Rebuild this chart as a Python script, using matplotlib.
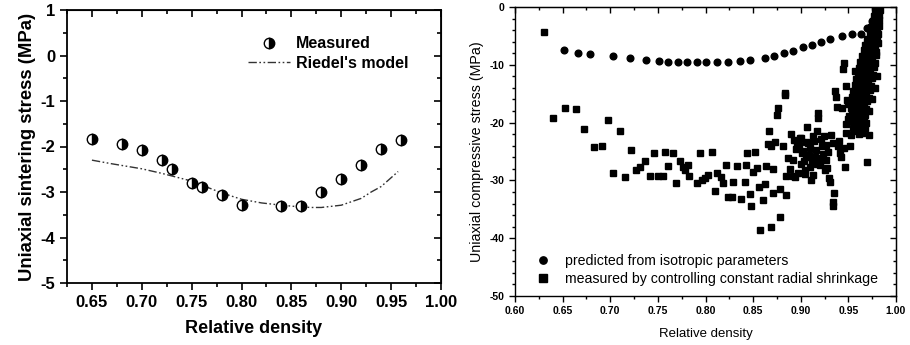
import matplotlib
matplotlib.use("Agg")
import matplotlib.pyplot as plt
from matplotlib.ticker import MultipleLocator

plt.rcParams['font.family'] = ['Liberation Sans', 'DejaVu Sans']

# ---------------- Left panel data ----------------
meas_x = [0.65, 0.68, 0.70, 0.72, 0.73, 0.75, 0.76, 0.78, 0.80, 0.84, 0.86, 0.88, 0.90, 0.92, 0.94, 0.96]
meas_y = [-1.84, -1.95, -2.08, -2.30, -2.50, -2.81, -2.90, -3.07, -3.28, -3.30, -3.30, -3.00, -2.72, -2.41, -2.06, -1.86]

model_x = [0.65, 0.67, 0.70, 0.72, 0.75, 0.78, 0.80, 0.82, 0.84, 0.86, 0.87, 0.88, 0.90, 0.92, 0.93, 0.94, 0.957]
model_y = [-2.30, -2.38, -2.49, -2.59, -2.76, -3.02, -3.16, -3.24, -3.29, -3.33, -3.34, -3.34, -3.29, -3.14, -3.00, -2.88, -2.55]

left_xticks = [0.65, 0.70, 0.75, 0.80, 0.85, 0.90, 0.95, 1.00]
left_yticks = [1, 0, -1, -2, -3, -4, -5]

# ---------------- Right panel data ----------------
pred_x = [0.651, 0.666, 0.679, 0.703, 0.721, 0.738, 0.751, 0.761, 0.771, 0.781, 0.791, 0.801,
          0.812, 0.824, 0.836, 0.847, 0.862, 0.872, 0.882, 0.892, 0.902, 0.912, 0.921, 0.931,
          0.943, 0.954, 0.963, 0.970, 0.975, 0.979, 0.982]
pred_y = [-7.4, -7.9, -8.1, -8.4, -8.8, -9.2, -9.3, -9.45, -9.5, -9.5, -9.5, -9.5,
          -9.5, -9.5, -9.3, -9.1, -8.8, -8.4, -7.9, -7.6, -7.0, -6.5, -6.05, -5.6,
          -5.0, -4.7, -4.6, -3.6, -2.4, -1.2, -0.2]

meas2_x = [0.630, 0.640, 0.652, 0.664, 0.672, 0.683, 0.691, 0.698, 0.703, 0.710, 0.716, 0.722,
           0.727, 0.731, 0.736, 0.742, 0.746, 0.750, 0.755, 0.758, 0.761, 0.766, 0.769, 0.773,
           0.776, 0.779, 0.782, 0.783, 0.791, 0.794, 0.796, 0.799, 0.803, 0.807, 0.810, 0.812,
           0.816, 0.818, 0.822, 0.824, 0.828, 0.829, 0.833, 0.837, 0.841, 0.842, 0.844, 0.847,
           0.848, 0.850, 0.852, 0.854, 0.856, 0.857, 0.860, 0.862, 0.863, 0.866, 0.867, 0.869,
           0.869, 0.871, 0.871, 0.873, 0.875, 0.876, 0.878, 0.878, 0.881, 0.883, 0.883, 0.885,
           0.885, 0.890, 0.892, 0.892, 0.896, 0.897, 0.899, 0.901, 0.903, 0.904, 0.907, 0.908,
           0.909, 0.911, 0.913, 0.915, 0.917, 0.917, 0.918, 0.918, 0.920, 0.922, 0.924, 0.925,
           0.927, 0.930, 0.931, 0.934, 0.934, 0.935, 0.932, 0.934, 0.936, 0.937, 0.938, 0.939,
           0.941, 0.943, 0.944, 0.945, 0.946, 0.948, 0.948, 0.949, 0.951, 0.952, 0.953, 0.955,
           0.957, 0.972, 0.970,
           0.893, 0.895, 0.898, 0.900, 0.902, 0.905, 0.906, 0.910, 0.912, 0.914, 0.916, 0.919,
           0.921, 0.923, 0.926, 0.928, 0.887, 0.889, 0.894, 0.900, 0.904, 0.910, 0.913, 0.921,
           0.929, 0.940, 0.942, 0.945, 0.947, 0.950,
           # dense cluster near full density
           0.978, 0.981, 0.983, 0.977, 0.980, 0.982, 0.976, 0.979, 0.982, 0.974, 0.977, 0.980,
           0.982, 0.973, 0.976, 0.979, 0.981, 0.970, 0.974, 0.977, 0.980, 0.967, 0.971, 0.975,
           0.978, 0.981, 0.966, 0.970, 0.973, 0.976, 0.979, 0.964, 0.968, 0.972, 0.975, 0.979,
           0.962, 0.966, 0.970, 0.974, 0.978, 0.961, 0.965, 0.969, 0.973, 0.977, 0.960, 0.964,
           0.968, 0.972, 0.976, 0.958, 0.962, 0.967, 0.971, 0.975, 0.957, 0.961, 0.965, 0.970,
           0.974, 0.955, 0.960, 0.964, 0.969, 0.973, 0.954, 0.958, 0.963, 0.967, 0.972, 0.953,
           0.957, 0.962, 0.966, 0.970, 0.953, 0.957, 0.961, 0.965, 0.969, 0.954, 0.958, 0.962,
           0.967, 0.955, 0.959, 0.963, 0.966, 0.956, 0.960, 0.964, 0.958, 0.962,
           0.980, 0.978, 0.975, 0.972, 0.969, 0.967, 0.964, 0.961, 0.959, 0.956, 0.951, 0.950]
meas2_y = [-4.3, -19.2, -17.5, -17.6, -21.1, -24.2, -24.0, -19.6, -28.7, -21.5, -29.4, -24.8,
           -28.2, -27.6, -26.6, -29.3, -25.3, -29.2, -29.3, -25.0, -27.5, -25.2, -30.5, -26.7,
           -27.6, -28.2, -27.4, -29.3, -30.5, -25.2, -29.9, -29.6, -29.0, -25.1, -31.9, -28.8,
           -29.4, -30.4, -27.3, -32.8, -32.8, -30.2, -27.5, -33.3, -30.3, -27.3, -25.3, -32.3,
           -34.4, -28.6, -25.0, -27.9, -31.1, -38.5, -33.4, -30.6, -27.5, -23.7, -21.5, -38.0,
           -24.1, -28.1, -32.2, -23.3, -18.6, -17.4, -31.5, -36.4, -24.1, -15.2, -14.8, -29.3,
           -32.5, -22.0, -26.4, -29.3, -24.1, -28.8, -22.7, -25.3, -26.6, -28.2, -20.8, -23.6,
           -25.6, -29.9, -22.4, -25.9, -21.5, -27.1, -19.2, -18.4, -27.3, -24.1, -22.4, -28.2,
           -26.4, -29.6, -30.2, -33.8, -34.5, -32.1, -22.1, -23.6, -14.6, -15.5, -17.3, -24.1,
           -25.3, -17.5, -10.7, -9.7, -27.6, -13.6, -21.8, -16.1, -18.9, -24.1, -22.1, -21.0,
           -11.1, -22.1, -26.8,
           -23.0, -24.6, -23.8, -22.6, -24.9, -23.3, -26.0, -24.4, -26.9, -23.1, -24.8, -26.2,
           -22.9, -25.5, -23.9, -27.8, -26.1, -28.0, -29.4, -27.2, -28.9, -27.7, -29.0, -26.5,
           -25.0, -23.2, -26.0, -24.4, -20.2, -19.3,
           # dense cluster near full density
           -0.5, -0.3, -0.6, -1.5, -1.7, -1.4, -2.5, -2.6, -2.3, -3.5, -3.4, -3.7,
           -3.3, -4.5, -4.6, -4.4, -4.7, -5.5, -5.4, -5.6, -5.3, -6.5, -6.6, -6.4,
           -6.7, -6.3, -7.5, -7.4, -7.6, -7.3, -7.7, -8.5, -8.6, -8.4, -8.7, -8.3,
           -9.5, -9.4, -9.6, -9.3, -9.7, -10.5, -10.6, -10.4, -10.7, -10.3, -11.5, -11.4,
           -11.6, -11.3, -11.7, -12.5, -12.6, -12.4, -12.7, -12.3, -13.5, -13.4, -13.6, -13.3,
           -13.7, -14.5, -14.6, -14.4, -14.7, -14.3, -15.5, -15.4, -15.6, -15.3, -15.7, -16.5,
           -16.6, -16.4, -16.7, -16.3, -17.5, -17.4, -17.6, -17.3, -17.7, -18.5, -18.6, -18.4,
           -18.7, -19.5, -19.4, -19.6, -19.3, -20.5, -20.4, -20.6, -21.5, -21.4,
           -12.0, -14.0, -16.0, -18.0, -20.0, -21.0, -21.8, -22.0, -20.8, -18.0, -19.8, -16.8]

right_xticks = [0.60, 0.65, 0.70, 0.75, 0.80, 0.85, 0.90, 0.95, 1.00]
right_yticks = [0, -10, -20, -30, -40, -50]

# ---------------- Figure ----------------
fig = plt.figure(figsize=(9.10, 3.45), dpi=100)

# Left panel
axL = fig.add_axes([67/910, 1-283/345, (441-67)/910, (283-10)/345])
axL.plot(model_x, model_y, color='#333333', lw=1.0,
         linestyle=(0, (6, 1.8, 1.2, 1.8, 1.2, 1.8)), label="Riedel's model")
axL.plot(meas_x, meas_y, linestyle='none', marker='o', markersize=7.5, fillstyle='right',
         markerfacecolor='black', markerfacecoloralt='white', markeredgecolor='black',
         markeredgewidth=1.0, label='Measured')
axL.set_xlim(0.625, 1.0)
axL.set_ylim(-5, 1)
axL.set_xticks(left_xticks)
axL.set_xticklabels([f"{v:.2f}" for v in left_xticks])
axL.set_yticks(left_yticks)
axL.set_yticklabels([str(v) for v in left_yticks])
axL.xaxis.set_minor_locator(MultipleLocator(0.025))
axL.yaxis.set_minor_locator(MultipleLocator(0.5))
axL.tick_params(which='both', direction='out', labelsize=12, width=1.2)
axL.tick_params(which='major', length=5)
axL.tick_params(which='minor', length=3)
for lab in axL.get_xticklabels() + axL.get_yticklabels():
    lab.set_fontweight('bold')
for s in axL.spines.values():
    s.set_linewidth(1.3)
axL.set_xlabel('Relative density', fontsize=13, fontweight='bold', labelpad=7)
axL.set_ylabel('Uniaxial sintering stress (MPa)', fontsize=13.3, fontweight='bold', labelpad=3)
# mirrored inward ticks on top/right
topL = axL.secondary_xaxis('top')
topL.set_xticks(left_xticks)
topL.xaxis.set_minor_locator(MultipleLocator(0.025))
topL.tick_params(which='both', direction='in', labeltop=False, width=1.2)
topL.tick_params(which='major', length=5)
topL.tick_params(which='minor', length=3)
rightL = axL.secondary_yaxis('right')
rightL.set_yticks(left_yticks)
rightL.yaxis.set_minor_locator(MultipleLocator(0.5))
rightL.tick_params(which='both', direction='in', labelright=False, width=1.2)
rightL.tick_params(which='major', length=5)
rightL.tick_params(which='minor', length=3)
h, l = axL.get_legend_handles_labels()
axL.legend([h[1], h[0]], [l[1], l[0]], loc='upper left', bbox_to_anchor=(0.455, 0.945),
           frameon=False, prop={'weight': 'bold', 'size': 11.5}, handlelength=2.6,
           handletextpad=0.4, labelspacing=0.3, borderpad=0.2)

# Right panel
axR = fig.add_axes([515/910, 1-296/345, (896-515)/910, (296-7)/345])
axR.plot(meas2_x, meas2_y, linestyle='none', marker='s', markersize=4.8, color='black',
         label='measured by controlling constant radial shrinkage')
axR.plot(pred_x, pred_y, linestyle='none', marker='o', markersize=4.8, color='black',
         label='predicted from isotropic parameters')
axR.set_xlim(0.60, 1.00)
axR.set_ylim(-50, 0)
axR.set_xticks(right_xticks)
axR.set_xticklabels([f"{v:.2f}" for v in right_xticks])
axR.set_yticks(right_yticks)
axR.set_yticklabels([str(v) for v in right_yticks])
axR.xaxis.set_minor_locator(MultipleLocator(0.025))
axR.yaxis.set_minor_locator(MultipleLocator(2))
axR.tick_params(which='both', direction='out', labelsize=7.5, width=1.0)
axR.tick_params(which='major', length=4)
axR.tick_params(which='minor', length=2)
for lab in axR.get_xticklabels() + axR.get_yticklabels():
    lab.set_fontweight('bold')
for s in axR.spines.values():
    s.set_linewidth(1.0)
axR.set_xlabel('Relative density', fontsize=9.5, labelpad=8)
axR.set_ylabel('Uniaxial compressive stress (MPa)', fontsize=10.3, labelpad=4)
topR = axR.secondary_xaxis('top')
topR.set_xticks(right_xticks)
topR.xaxis.set_minor_locator(MultipleLocator(0.025))
topR.tick_params(which='both', direction='in', labeltop=False, width=1.0)
topR.tick_params(which='major', length=4)
topR.tick_params(which='minor', length=2)
rightR = axR.secondary_yaxis('right')
rightR.set_yticks(right_yticks)
rightR.yaxis.set_minor_locator(MultipleLocator(2))
rightR.tick_params(which='both', direction='in', labelright=False, width=1.0)
rightR.tick_params(which='major', length=4)
rightR.tick_params(which='minor', length=2)
h, l = axR.get_legend_handles_labels()
axR.legend([h[1], h[0]], [l[1], l[0]], loc='lower left', bbox_to_anchor=(0.03, 0.0),
           frameon=False, prop={'size': 10.2}, handlelength=1.0, handletextpad=1.0,
           labelspacing=0.3, borderpad=0.2, markerscale=1.1)

fig.savefig('out.png', dpi=100)
